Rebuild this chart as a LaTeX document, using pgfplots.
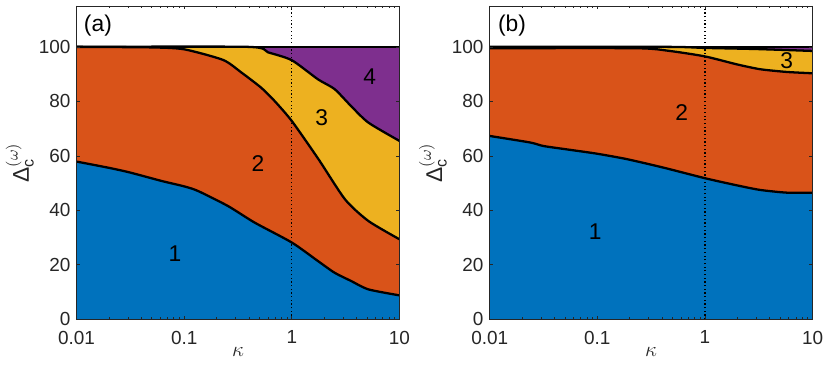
\documentclass[border=0pt]{standalone}
\usepackage{pgfplots}
\pgfplotsset{compat=1.18}
\usepackage{amsmath}
\usepackage{fontspec}
\setmainfont{Liberation Sans}

\definecolor{mblue}{rgb}{0,0.447,0.741}
\definecolor{morange}{rgb}{0.85,0.325,0.098}
\definecolor{myellow}{rgb}{0.929,0.694,0.125}
\definecolor{mpurple}{rgb}{0.494,0.184,0.556}
\definecolor{axgray}{rgb}{0.15,0.15,0.15}

\tikzset{
  fillarea/.style={draw=none, fill=#1, smooth, tension=0.4},
  bound/.style={black, line width=1.3pt, smooth, tension=0.4},
  lab/.style={font=\fontsize{13}{15}\selectfont},
  kline/.style={black, line width=0.7pt, dash pattern=on 0.7pt off 1.4pt},
}

\begin{document}
\begin{tikzpicture}
% panel (a)
\begin{axis}[
    scale only axis, width=6.47cm, height=6.28cm,
    xmode=log, xmin=0.01, xmax=10, ymin=0, ymax=115,
    xtick={0.01,0.1,1,10}, xticklabels={0.01,0.1,1,10},
    ytick={0,20,40,60,80,100},
    tick align=inside, axis on top,
    major tick length=0.07cm, minor tick length=0.04cm,
    axis line style={axgray, line width=0.5pt},
    tick style={axgray, line width=0.4pt},
    tick label style={font=\fontsize{10.8}{12}\selectfont, text=axgray},
    xticklabel style={yshift=-3pt},
    xlabel style={font=\fontsize{13}{15}\selectfont, text=axgray, yshift=5pt},
    ylabel style={font=\fontsize{13}{15}\selectfont, text=axgray, yshift=-4pt},
    xlabel={$\kappa$},
    ylabel={$\text{Δ}_{\text{c}}^{(\omega)}$},
    /pgf/number format/assume math mode=true,
  ]
  \addplot[fillarea=mpurple] coordinates {(0.01,100) (10,100)} \closedcycle;
  \addplot[fillarea=myellow] coordinates {
    (0.01,100) (0.39,100) (0.6,98) (1,95.1) (1.75,88.1) (2.5,84.5)
    (3.55,78.3) (5.15,72.2) (10,65.5)} \closedcycle;
  \addplot[fillarea=morange] coordinates {
    (0.01,100) (0.05,99.8) (0.1,99.1) (0.23,95.2) (0.34,90.6) (0.52,85)
    (0.69,80.2) (1,72.8) (1.77,58.8) (3.13,44) (5.15,36.1) (10,29.4)} \closedcycle;
  \addplot[fillarea=mblue] coordinates {
    (0.01,57.9) (0.02,55.6) (0.0313,53.9) (0.0615,50.8) (0.1,48.8)
    (0.1346,47.1) (0.255,41.6) (0.452,35.5) (1,28.2) (1.75,21.4)
    (2.5,17.1) (3.55,14.1) (5.15,11.0) (10,8.8)} \closedcycle;
  \addplot[bound] coordinates {
    (0.01,57.9) (0.02,55.6) (0.0313,53.9) (0.0615,50.8) (0.1,48.8)
    (0.1346,47.1) (0.255,41.6) (0.452,35.5) (1,28.2) (1.75,21.4)
    (2.5,17.1) (3.55,14.1) (5.15,11.0) (10,8.8)};
  \addplot[bound] coordinates {
    (0.01,100) (0.05,99.8) (0.1,99.1) (0.23,95.2) (0.34,90.6) (0.52,85)
    (0.69,80.2) (1,72.8) (1.77,58.8) (3.13,44) (5.15,36.1) (10,29.4)};
  \addplot[bound] coordinates {
    (0.01,100) (0.39,100) (0.6,98) (1,95.1) (1.75,88.1) (2.5,84.5)
    (3.55,78.3) (5.15,72.2) (10,65.5)};
  \addplot[bound] coordinates {(0.01,100) (10,100)};
  \addplot[kline] coordinates {(1,0) (1,115)};
  \node[lab] at (axis cs:0.082,24) {1};
  \node[lab] at (axis cs:0.485,57) {2};
  \node[lab] at (axis cs:1.9,74) {3};
  \node[lab] at (axis cs:5.3,89) {4};
  \node[lab] at (axis cs:0.0158,107.7) {(a)};
\end{axis}
% panel (b)
\begin{axis}[
    at={(8.28cm,0)},
    scale only axis, width=6.47cm, height=6.28cm,
    xmode=log, xmin=0.01, xmax=10, ymin=0, ymax=115,
    xtick={0.01,0.1,1,10}, xticklabels={0.01,0.1,1,10},
    ytick={0,20,40,60,80,100},
    tick align=inside, axis on top,
    major tick length=0.07cm, minor tick length=0.04cm,
    axis line style={axgray, line width=0.5pt},
    tick style={axgray, line width=0.4pt},
    tick label style={font=\fontsize{10.8}{12}\selectfont, text=axgray},
    xticklabel style={yshift=-3pt},
    xlabel style={font=\fontsize{13}{15}\selectfont, text=axgray, yshift=5pt},
    ylabel style={font=\fontsize{13}{15}\selectfont, text=axgray, yshift=-4pt},
    xlabel={$\kappa$},
    ylabel={$\text{Δ}_{\text{c}}^{(\omega)}$},
    /pgf/number format/assume math mode=true,
  ]
  \addplot[fillarea=mpurple] coordinates {(0.01,100) (10,100)} \closedcycle;
  \addplot[fillarea=myellow] coordinates {
    (0.01,100) (0.45,100) (1,99.6) (3,99.2) (10,98.5)} \closedcycle;
  \addplot[fillarea=morange] coordinates {
    (0.01,99.5) (0.23,99.5) (0.47,98.5) (1,96.5) (1.97,93.6) (3.25,91.8)
    (5.74,90.8) (10,90.3)} \closedcycle;
  \addplot[fillarea=mblue] coordinates {
    (0.01,67.3) (0.0238,64.9) (0.0317,63.6) (0.056,62.2) (0.099,60.8)
    (0.188,58.8) (0.41,55.7) (1,51.8) (1.97,49.2) (3.25,47.5)
    (5.74,46.5) (10,46.5)} \closedcycle;
  \addplot[bound] coordinates {
    (0.01,67.3) (0.0238,64.9) (0.0317,63.6) (0.056,62.2) (0.099,60.8)
    (0.188,58.8) (0.41,55.7) (1,51.8) (1.97,49.2) (3.25,47.5)
    (5.74,46.5) (10,46.5)};
  \addplot[bound] coordinates {
    (0.01,99.5) (0.23,99.5) (0.47,98.5) (1,96.5) (1.97,93.6) (3.25,91.8)
    (5.74,90.8) (10,90.3)};
  \addplot[bound] coordinates {
    (0.01,100) (0.45,100) (1,99.6) (3,99.2) (10,98.5)};
  \addplot[bound] coordinates {(0.01,100) (10,100)};
  \addplot[kline] coordinates {(1,0) (1,115)};
  \node[lab] at (axis cs:0.0955,32) {1};
  \node[lab] at (axis cs:0.61,76) {2};
  \node[lab] at (axis cs:5.74,95) {3};
  \node[lab] at (axis cs:0.0161,107.7) {(b)};
\end{axis}
\path[use as bounding box] (-1.5cm,-0.98cm) rectangle (15.1cm,6.4cm);
\end{tikzpicture}
\end{document}
